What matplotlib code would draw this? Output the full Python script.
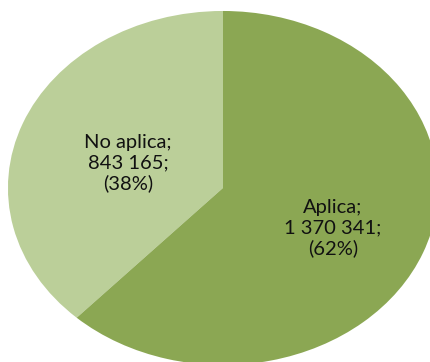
import matplotlib.pyplot as plt

categories = ['No aplica', 'Aplica']
values = [843165, 1370341]
colors = ['#BBCF99', '#8BA753']

fig = plt.figure(figsize=[4.3, 3.62], dpi=100)
ax = fig.add_axes([0, 0, 1, 1])

# Flattened pie: start at 12 o'clock, go counter-clockwise
ax.pie(values, colors=colors, startangle=90, counterclock=True,
       wedgeprops={'linewidth': 0})
ax.set_aspect('auto')
ax.set_xlim(-1.037, 0.963)
ax.set_ylim(-0.983, 1.062)
ax.axis('off')

total = sum(values)

def fmt(v):
    return f'{v:,}'.replace(',', ' ')

label_xy = [(-0.442, 0.141), (0.512, -0.226)]
for name, v, (x, y) in zip(categories, values, label_xy):
    pct = round(100 * v / total)
    ax.text(x, y, f'{name};\n{fmt(v)};\n({pct}%)', ha='center', va='center',
            fontsize=14.5, family=['Lato', 'DejaVu Sans'], color='#111111',
            linespacing=1.2)

plt.savefig('out.png', dpi=100)
